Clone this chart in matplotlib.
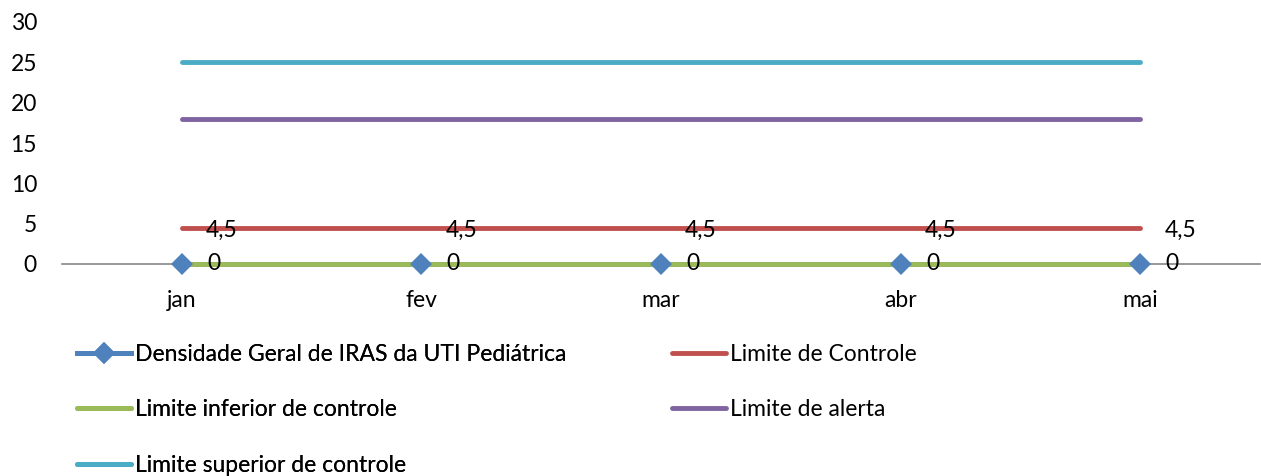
import matplotlib
matplotlib.use("Agg")
import matplotlib.pyplot as plt
from matplotlib.lines import Line2D

months = ["jan", "fev", "mar", "abr", "mai"]
densidade = [0, 0, 0, 0, 0]
limite_controle = [4.5, 4.5, 4.5, 4.5, 4.5]
limite_inferior = [0, 0, 0, 0, 0]
limite_alerta = [18, 18, 18, 18, 18]
limite_superior = [25, 25, 25, 25, 25]
y_ticks = [0, 5, 10, 15, 20, 25, 30]

plt.rcParams['font.family'] = ['Lato', 'DejaVu Sans']
FS = 16.5

fig = plt.figure(figsize=(12.61, 4.76), dpi=100)
ax = fig.add_axes([62/1261, 1-264/476, 1198/1261, 242/476])

x = list(range(len(months)))
c_blue = "#4F81BD"
c_red = "#C0504D"
c_green = "#9BBB59"
c_purple = "#8064A2"
c_cyan = "#4BACC6"
lw = 3.5
ms = 11

ax.plot(x, densidade, color=c_blue, lw=lw, solid_capstyle='round', zorder=2, clip_on=False)
ax.plot(x, limite_controle, color=c_red, lw=lw, solid_capstyle='round', zorder=3, clip_on=False)
ax.plot(x, limite_inferior, color=c_green, lw=lw, solid_capstyle='round', zorder=3, clip_on=False)
ax.plot(x, limite_alerta, color=c_purple, lw=lw, solid_capstyle='round', zorder=3, clip_on=False)
ax.plot(x, limite_superior, color=c_cyan, lw=lw, solid_capstyle='round', zorder=3, clip_on=False)
ax.plot(x, densidade, linestyle='none', marker='D', markersize=ms,
        color=c_blue, markeredgewidth=0, zorder=5, clip_on=False)

for xi, v in zip(x, limite_controle):
    ax.annotate(f"{v}".replace(".", ","), (xi, v), xytext=(40, -3),
                textcoords='offset pixels', ha='center', va='center',
                fontsize=FS, zorder=6)
for xi, v in zip(x, densidade):
    ax.annotate(f"{v}", (xi, v), xytext=(32, 0),
                textcoords='offset pixels', ha='center', va='center',
                fontsize=FS, zorder=6)

ax.set_xlim(-0.5, len(months) - 0.5)
ax.set_ylim(0, 30)
ax.set_yticks(y_ticks)
ax.set_yticklabels([str(t) for t in y_ticks], fontsize=FS)
ax.set_xticks(x)
ax.set_xticklabels(months, fontsize=FS)
ax.tick_params(axis='y', length=0, pad=18)
ax.tick_params(axis='x', length=0, pad=19)
for s in ['top', 'right', 'left']:
    ax.spines[s].set_visible(False)
ax.spines['bottom'].set_color('#868686')
ax.spines['bottom'].set_linewidth(1.2)
ax.spines['bottom'].set_zorder(1)
ax.set_facecolor('none')

h_dens = Line2D([], [], color=c_blue, lw=lw, marker='D', markersize=ms, markeredgewidth=0)
h_inf = Line2D([], [], color=c_green, lw=lw, solid_capstyle='round')
h_sup = Line2D([], [], color=c_cyan, lw=lw, solid_capstyle='round')
h_ctrl = Line2D([], [], color=c_red, lw=lw, solid_capstyle='round')
h_alert = Line2D([], [], color=c_purple, lw=lw, solid_capstyle='round')

common = dict(loc='upper left', frameon=False, fontsize=FS, handlelength=2.35,
              handletextpad=0.17, labelspacing=1.5, borderaxespad=0, borderpad=0)
leg1 = fig.legend([h_dens, h_inf, h_sup],
                  ["Densidade Geral de IRAS da UTI Pediátrica",
                   "Limite inferior de controle",
                   "Limite superior de controle"],
                  bbox_to_anchor=(77/1261, 1-344/476), **common)
fig.add_artist(leg1)
leg2 = fig.legend([h_ctrl, h_alert],
                  ["Limite de Controle", "Limite de alerta"],
                  bbox_to_anchor=(672/1261, 1-344/476), **common)

fig.savefig("out.png", dpi=100)
